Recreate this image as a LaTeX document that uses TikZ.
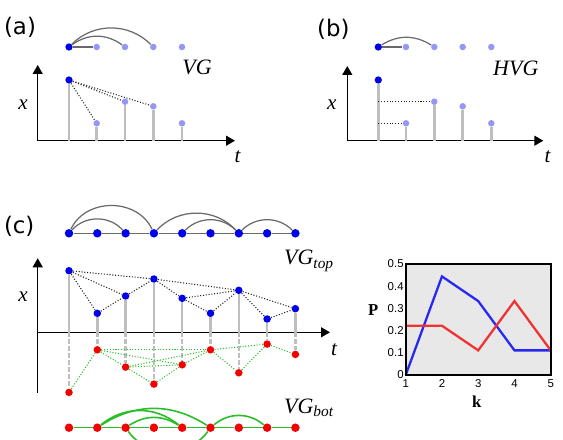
\documentclass[tikz,border=0pt]{standalone}
\usepackage{fontspec}
\setmainfont{Liberation Serif}
\newfontfamily\panelfont{DejaVu Sans}
\newfontfamily\tickfont{Liberation Sans}
\usepackage{tikz}
\usetikzlibrary{arrows.meta}

\definecolor{vgblue}{RGB}{0,0,235}
\definecolor{liteblue}{RGB}{150,150,245}
\definecolor{vgred}{RGB}{245,0,0}
\definecolor{vggreen}{RGB}{40,190,40}
\definecolor{arcgray}{RGB}{105,105,105}
\definecolor{stemgray}{RGB}{190,190,190}
\definecolor{plotbg}{RGB}{232,232,232}
\definecolor{pblue}{RGB}{40,40,240}
\definecolor{pred}{RGB}{240,50,50}

\begin{document}
\begin{tikzpicture}[
  x=0.02cm, y=0.02cm,
  darkdot/.style={circle, inner sep=0pt, minimum size=1.45mm, fill=vgblue},
  litedot/.style={circle, inner sep=0pt, minimum size=1.3mm, fill=liteblue},
  bluedot/.style={circle, inner sep=0pt, minimum size=1.5mm, fill=vgblue},
  reddot/.style={circle, inner sep=0pt, minimum size=1.5mm, fill=vgred},
  gbluedot/.style={bluedot, minimum size=1.7mm},
  greddot/.style={reddot, minimum size=1.7mm},
  axisline/.style={-{Triangle[length=1.8mm, width=2mm]}, line width=0.8pt},
  stemline/.style={line width=1.4pt, stemgray},
  dstemline/.style={stemline, dash pattern=on 2.5pt off 1.5pt},
  sight/.style={line width=0.6pt, densely dotted, black!85},
  gsight/.style={line width=0.6pt, densely dotted, vggreen},
  link/.style={line width=0.7pt, arcgray},
  glink/.style={line width=0.9pt, vggreen},
  panel/.style={font=\panelfont\fontsize{13}{13}\selectfont},
  glabel/.style={font=\itshape\fontsize{12.5}{13}\selectfont},
  axlabel/.style={font=\itshape\fontsize{12}{12}\selectfont},
  ticklabel/.style={font=\tickfont\fontsize{6.5}{7}\selectfont, inner sep=1pt},
  plabel/.style={font=\bfseries\fontsize{9.5}{10}\selectfont},
  pline/.style={line width=1.3pt},
  frame/.style={line width=0.9pt}
]
\useasboundingbox (0,0) rectangle (563,439);

%% --- (a) natural visibility graph ---
\node[panel] (la) at (20,411.5) {(a)};
\coordinate (ao) at (37.7,298.3);
\coordinate (ay) at (37.7,374);
\coordinate (ax) at (235,298.3);
\draw[axisline] (ao) -- (ay);
\draw[axisline] (ao) -- (ax);
\foreach \i/\x/\y/\s in {1/69/359/darkdot, 2/96.7/315.7/litedot, 3/125/337.3/litedot,
                         4/153.3/332.7/litedot, 5/182/315.7/litedot} {
  \coordinate (as\i) at (\x,298.3);
  \node[\s] (ap\i) at (\x,\y) {};
  \node[\s] (ag\i) at (\x,392) {};
  \draw[stemline] (as\i) -- (ap\i);
}
\foreach \c in {2,3,4} \draw[sight] (ap1) -- (ap\c);
\draw[link] (ag1) -- (ag2);
\draw[link] (ag1) to[bend left=36] (ag3);
\draw[link] (ag1) to[bend left=45] (ag4);
\node[glabel] (vga) at (197,371.5) {VG};
\node[axlabel] (xa) at (23,334.3) {x};
\node[axlabel] (ta) at (237.5,282.3) {t};

%% --- (b) horizontal visibility graph ---
\node[panel] (lb) at (333.3,410) {(b)};
\coordinate (bo) at (347.3,298.3);
\coordinate (by) at (347.3,373);
\coordinate (bx) at (543.3,298.3);
\draw[axisline] (bo) -- (by);
\draw[axisline] (bo) -- (bx);
\foreach \i/\x/\y/\s in {1/378.3/359/darkdot, 2/406/315.7/litedot, 3/434.3/337.3/litedot,
                         4/462.7/332.7/litedot, 5/491.3/315.7/litedot} {
  \coordinate (bs\i) at (\x,298.3);
  \node[\s] (bp\i) at (\x,\y) {};
  \node[\s] (bg\i) at (\x,392) {};
  \draw[stemline] (bs\i) -- (bp\i);
}
\draw[sight] (bp3 -| bs1) -- (bp3);
\draw[sight] (bp2 -| bs1) -- (bp2);
\draw[link] (bg1) -- (bg2);
\draw[link] (bg1) to[bend left=32] (bg3);
\node[glabel] (vgb) at (515.8,370.7) {HVG};
\node[axlabel] (xb) at (331.7,334) {x};
\node[axlabel] (tb) at (547.5,282.3) {t};

%% --- (c) top and bottom visibility graphs ---
\node[panel] (lc) at (19.2,212.3) {(c)};
\coordinate (co) at (37.7,106.7);
\coordinate (cy) at (37.7,180.7);
\coordinate (cyb) at (37.7,46.3);
\coordinate (cx) at (330,106.7);
\draw[axisline] (cyb) -- (cy);
\draw[axisline] (co) -- (cx);
\foreach \i/\x/\h in {1/69/61.6, 2/97.3/19, 3/125.6/36.3, 4/153.9/53.3, 5/182.2/34,
                      6/210.5/19, 7/238.8/42, 8/267.1/13.3, 9/295.4/23.6} {
  \coordinate (cs\i) at (\x,106.7);
  \node[bluedot] (ct\i) at (\x,106.7+\h) {};
  \node[reddot] (cb\i) at (\x,108.2-\h) {};
  \node[gbluedot] (gt\i) at (\x,205.7) {};
  \node[greddot] (gb\i) at (\x,11.3) {};
  \draw[stemline] (cs\i) -- (ct\i);
  \draw[dstemline] (cs\i) -- (cb\i);
}
\foreach \a/\c in {1/2,1/3,1/4,2/3,3/4,4/5,4/7,5/6,5/7,6/7,7/8,7/9,8/9}
  \draw[sight] (ct\a) -- (ct\c);
\foreach \a/\c in {1/2,2/3,2/5,2/6,3/4,3/5,3/6,4/5,5/6,6/7,6/8,7/8,8/9}
  \draw[gsight] (cb\a) -- (cb\c);
\foreach \a/\c in {1/2,2/3,3/4,4/5,5/6,6/7,7/8,8/9} {
  \draw[link] (gt\a) -- (gt\c);
  \draw[glink] (gb\a) -- (gb\c);
}
\foreach \a/\c/\ang in {1/3/48, 4/7/47, 5/7/45, 7/9/45}
  \draw[link] (gt\a) to[bend left=\ang] (gt\c);
\draw[link] (gt1) to[bend left=65, looseness=1.1] (gt4);
\foreach \a/\c/\ang in {2/5/39, 2/6/33, 3/5/33, 6/8/40}
  \draw[glink] (gb\a) to[bend left=\ang] (gb\c);
\draw[glink] (gb3) to[bend right=55] (gb6);
\node[glabel, anchor=base west] (vgt) at (278,174) {VG\textsubscript{top}};
\node[glabel, anchor=base west] (vgbot) at (278,25.7) {VG\textsubscript{bot}};
\node[axlabel] (xc) at (23,142.3) {x};
\node[axlabel] (tc) at (334,89) {t};

%% --- degree distributions ---
\begin{scope}[shift={(405.7,64)}, xscale=36.25, yscale=222]
  \fill[plotbg] (0,0) rectangle (4,0.5);
  \draw[pline, pblue] (0,0) -- (1,0.444) -- (2,0.333) -- (3,0.111) -- (4,0.111);
  \draw[pline, pred] (0,0.222) -- (1,0.222) -- (2,0.111) -- (3,0.333) -- (4,0.111);
  \draw[frame] (0,0) rectangle (4,0.5);
  \foreach \k in {1,...,5} \node[ticklabel, anchor=north] at (\k-1,-0.01) {\k};
  \foreach \p in {0,0.1,0.2,0.3,0.4,0.5} \node[ticklabel, anchor=east] at (0,\p) {\p};
\end{scope}
\node[plabel] (pl) at (373.3,129) {P};
\node[plabel] (kl) at (476.7,37.3) {k};
\end{tikzpicture}
\end{document}
